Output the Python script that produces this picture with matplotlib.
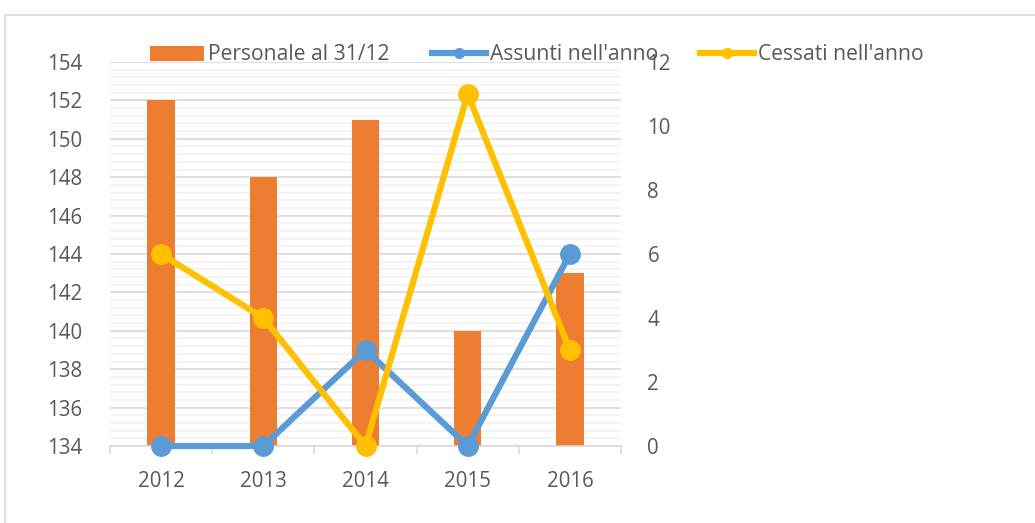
import matplotlib
matplotlib.use("Agg")
import matplotlib.pyplot as plt
from matplotlib.lines import Line2D
from matplotlib.patches import Patch, Rectangle
import numpy as np

years = ["2012", "2013", "2014", "2015", "2016"]
personale = [152, 148, 151, 140, 143]
assunti = [0, 0, 3, 0, 6]
cessati = [6, 4, 0, 11, 3]

ORANGE = "#ED7D31"
BLUE = "#5B9BD5"
YELLOW = "#FFC000"
TXT = "#595959"

plt.rcParams['font.family'] = ['Open Sans', 'DejaVu Sans']
FS = 14.8
LFS = 15.2

fig = plt.figure(figsize=(10.35, 5.23), dpi=100)
W, H = 1035, 523
# outer frame
fig.patches.append(Rectangle((5 / W, -0.1), 1.2, (H - 15) / H + 0.1, transform=fig.transFigure,
                             fill=False, edgecolor="#D9D9D9", linewidth=1.2))

ax = fig.add_axes([110 / W, (H - 446) / H, (621 - 110) / W, (446 - 62) / H])
x = np.arange(len(years))
ax.bar(x, [p - 134 for p in personale], bottom=134, width=0.27, color=ORANGE, zorder=2)
ax.set_xlim(-0.5, len(years) - 0.5)
ax.set_ylim(134, 154)
ax.set_yticks(np.arange(134, 155, 2))
ax.set_yticks(np.arange(134, 154.01, 0.4), minor=True)
ax.grid(axis="y", which="major", color="#D9D9D9", linewidth=1.2, zorder=0)
ax.grid(axis="y", which="minor", color="#F2F2F2", linewidth=1.2, zorder=0)
for s in ["top", "right", "left"]:
    ax.spines[s].set_visible(False)
ax.spines["bottom"].set_color("#D9D9D9")
ax.spines["bottom"].set_linewidth(1.2)
ax.set_xticks(x)
ax.set_xticklabels(years)
ax.set_xticks(np.arange(-0.5, len(years)), minor=True)
ax.tick_params(axis="x", which="major", length=0, pad=18, labelsize=FS, labelcolor=TXT)
ax.tick_params(axis="x", which="minor", length=6, color="#D9D9D9", width=1.2)
ax.tick_params(axis="y", which="both", length=0, pad=20, labelsize=FS, labelcolor=TXT)

ax2 = ax.twinx()
ax2.set_ylim(0, 12)
ax2.set_yticks(np.arange(0, 13, 2))
for s in ["top", "right", "left", "bottom"]:
    ax2.spines[s].set_visible(False)
ax2.tick_params(axis="y", length=0, pad=19, labelsize=FS, labelcolor=TXT)
ax2.plot(x, assunti, color=BLUE, linewidth=4.5, marker="o", markersize=14, zorder=3, clip_on=False)
ax2.plot(x, cessati, color=YELLOW, linewidth=4.5, marker="o", markersize=14, zorder=4, clip_on=False)

handles = [
    Patch(facecolor=ORANGE, edgecolor="none"),
    Line2D([], [], color=BLUE, linewidth=4.5, marker="o", markersize=7),
    Line2D([], [], color=YELLOW, linewidth=4.5, marker="o", markersize=7),
]
labels = ["Personale al 31/12", "Assunti nell'anno", "Cessati nell'anno"]
leg = fig.legend(handles, labels, ncol=3, frameon=False, fontsize=LFS,
                 loc="center left", bbox_to_anchor=(150 / W, 1 - 55 / H),
                 handlelength=2.55, handletextpad=0.2, columnspacing=2.0,
                 borderaxespad=0, borderpad=0)
for t in leg.get_texts():
    t.set_color(TXT)

fig.savefig("out.png", dpi=100)
